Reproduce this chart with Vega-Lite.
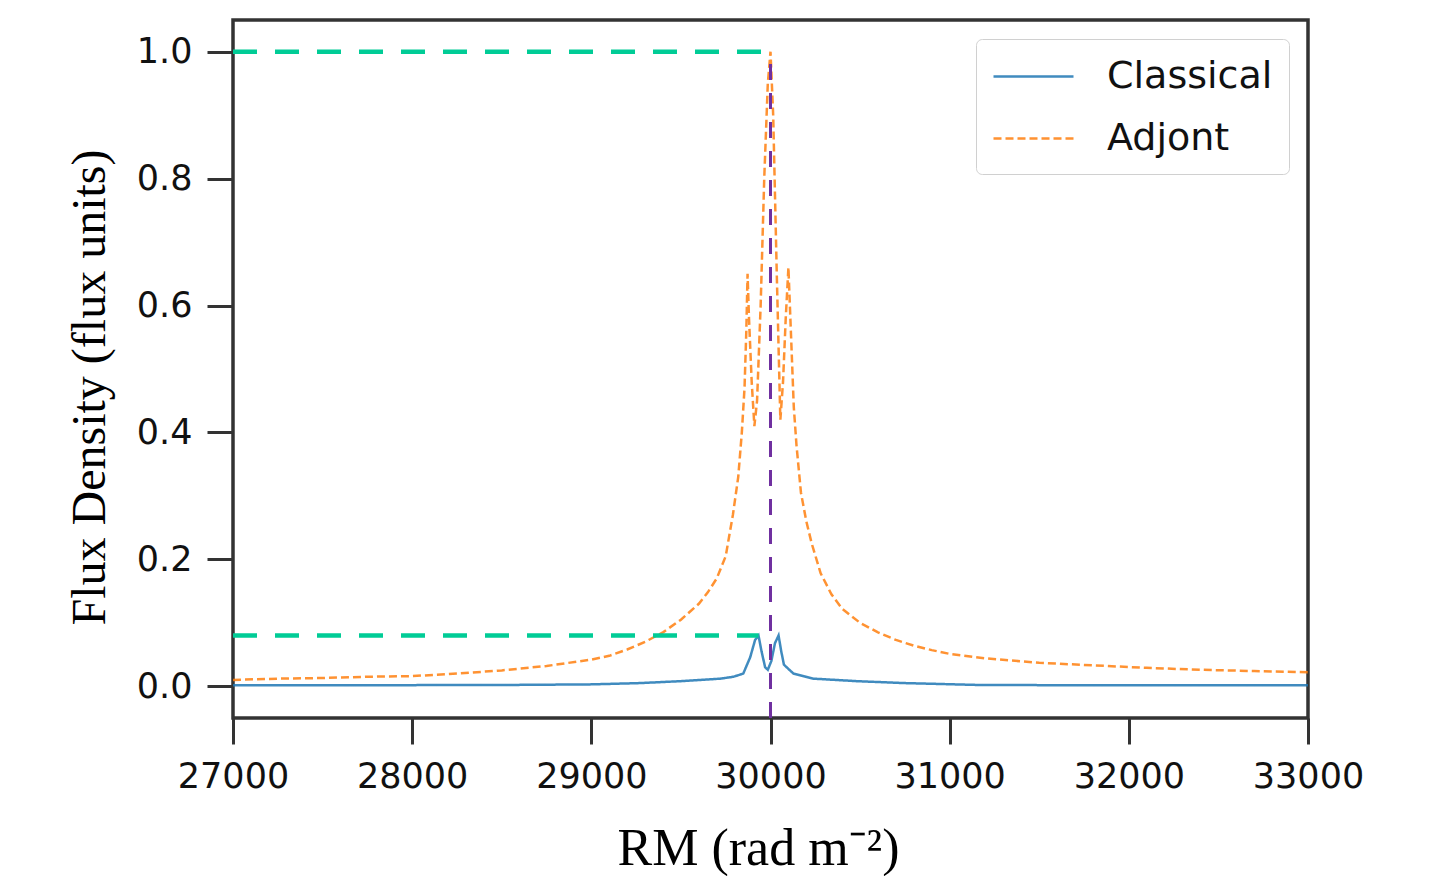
{
  "$schema": "https://vega.github.io/schema/vega-lite/v6.json",
  "autosize": {"type": "none"},
  "padding": {"left": 233, "top": 20, "right": 145, "bottom": 158},
  "width": 1075,
  "height": 698,
  "background": "white",
  "config": {
    "view": {"stroke": "#333333", "strokeWidth": 3.5},
    "axis": {
      "grid": false,
      "domain": false,
      "tickColor": "#333333",
      "tickWidth": 3,
      "tickSize": 26,
      "labelFont": "DejaVu Sans",
      "labelFontSize": 35,
      "labelColor": "#111111",
      "labelPadding": 15,
      "labelFlush": false,
      "titleFont": "Liberation Serif",
      "titleFontWeight": "normal",
      "titleColor": "#000000"
    },
    "legend": {
      "labelFont": "DejaVu Sans",
      "labelFontSize": 38,
      "labelColor": "#111111",
      "labelLimit": 0,
      "symbolType": "M-1,0H3",
      "symbolSize": 1600,
      "symbolStrokeWidth": 2.5,
      "labelOffset": 72,
      "padding": 16,
      "fillColor": "white",
      "strokeColor": "#d0d0d0",
      "cornerRadius": 6,
      "rowPadding": 21
    }
  },
  "datasets": {
    "curves": [
      {"rm": 27000, "flux": 0.010, "series": "Adjont"},
      {"rm": 27250, "flux": 0.012, "series": "Adjont"},
      {"rm": 27500, "flux": 0.013, "series": "Adjont"},
      {"rm": 27750, "flux": 0.015, "series": "Adjont"},
      {"rm": 28000, "flux": 0.016, "series": "Adjont"},
      {"rm": 28250, "flux": 0.020, "series": "Adjont"},
      {"rm": 28500, "flux": 0.025, "series": "Adjont"},
      {"rm": 28750, "flux": 0.032, "series": "Adjont"},
      {"rm": 29000, "flux": 0.042, "series": "Adjont"},
      {"rm": 29100, "flux": 0.048, "series": "Adjont"},
      {"rm": 29200, "flux": 0.058, "series": "Adjont"},
      {"rm": 29300, "flux": 0.070, "series": "Adjont"},
      {"rm": 29400, "flux": 0.085, "series": "Adjont"},
      {"rm": 29500, "flux": 0.105, "series": "Adjont"},
      {"rm": 29600, "flux": 0.130, "series": "Adjont"},
      {"rm": 29650, "flux": 0.148, "series": "Adjont"},
      {"rm": 29700, "flux": 0.170, "series": "Adjont"},
      {"rm": 29750, "flux": 0.205, "series": "Adjont"},
      {"rm": 29790, "flux": 0.270, "series": "Adjont"},
      {"rm": 29820, "flux": 0.330, "series": "Adjont"},
      {"rm": 29840, "flux": 0.400, "series": "Adjont"},
      {"rm": 29855, "flux": 0.470, "series": "Adjont"},
      {"rm": 29865, "flux": 0.560, "series": "Adjont"},
      {"rm": 29872, "flux": 0.650, "series": "Adjont"},
      {"rm": 29880, "flux": 0.580, "series": "Adjont"},
      {"rm": 29895, "flux": 0.480, "series": "Adjont"},
      {"rm": 29910, "flux": 0.410, "series": "Adjont"},
      {"rm": 29925, "flux": 0.450, "series": "Adjont"},
      {"rm": 29945, "flux": 0.600, "series": "Adjont"},
      {"rm": 29965, "flux": 0.800, "series": "Adjont"},
      {"rm": 29985, "flux": 0.950, "series": "Adjont"},
      {"rm": 30000, "flux": 1.000, "series": "Adjont"},
      {"rm": 30015, "flux": 0.900, "series": "Adjont"},
      {"rm": 30035, "flux": 0.650, "series": "Adjont"},
      {"rm": 30055, "flux": 0.420, "series": "Adjont"},
      {"rm": 30070, "flux": 0.480, "series": "Adjont"},
      {"rm": 30085, "flux": 0.580, "series": "Adjont"},
      {"rm": 30100, "flux": 0.660, "series": "Adjont"},
      {"rm": 30115, "flux": 0.550, "series": "Adjont"},
      {"rm": 30130, "flux": 0.440, "series": "Adjont"},
      {"rm": 30145, "flux": 0.380, "series": "Adjont"},
      {"rm": 30170, "flux": 0.305, "series": "Adjont"},
      {"rm": 30200, "flux": 0.260, "series": "Adjont"},
      {"rm": 30230, "flux": 0.225, "series": "Adjont"},
      {"rm": 30280, "flux": 0.178, "series": "Adjont"},
      {"rm": 30340, "flux": 0.145, "series": "Adjont"},
      {"rm": 30400, "flux": 0.122, "series": "Adjont"},
      {"rm": 30500, "flux": 0.100, "series": "Adjont"},
      {"rm": 30600, "flux": 0.085, "series": "Adjont"},
      {"rm": 30700, "flux": 0.073, "series": "Adjont"},
      {"rm": 30800, "flux": 0.064, "series": "Adjont"},
      {"rm": 30900, "flux": 0.057, "series": "Adjont"},
      {"rm": 31000, "flux": 0.051, "series": "Adjont"},
      {"rm": 31200, "flux": 0.044, "series": "Adjont"},
      {"rm": 31500, "flux": 0.037, "series": "Adjont"},
      {"rm": 31800, "flux": 0.033, "series": "Adjont"},
      {"rm": 32100, "flux": 0.029, "series": "Adjont"},
      {"rm": 32400, "flux": 0.026, "series": "Adjont"},
      {"rm": 32700, "flux": 0.024, "series": "Adjont"},
      {"rm": 33000, "flux": 0.022, "series": "Adjont"},
      {"rm": 27000, "flux": 0.0015, "series": "Classical"},
      {"rm": 27500, "flux": 0.0015, "series": "Classical"},
      {"rm": 28000, "flux": 0.0018, "series": "Classical"},
      {"rm": 28500, "flux": 0.002, "series": "Classical"},
      {"rm": 29000, "flux": 0.003, "series": "Classical"},
      {"rm": 29270, "flux": 0.005, "series": "Classical"},
      {"rm": 29495, "flux": 0.008, "series": "Classical"},
      {"rm": 29720, "flux": 0.012, "series": "Classical"},
      {"rm": 29793, "flux": 0.015, "series": "Classical"},
      {"rm": 29848, "flux": 0.020, "series": "Classical"},
      {"rm": 29887, "flux": 0.046, "series": "Classical"},
      {"rm": 29914, "flux": 0.073, "series": "Classical"},
      {"rm": 29933, "flux": 0.080, "series": "Classical"},
      {"rm": 29950, "flux": 0.055, "series": "Classical"},
      {"rm": 29970, "flux": 0.030, "series": "Classical"},
      {"rm": 29985, "flux": 0.026, "series": "Classical"},
      {"rm": 30005, "flux": 0.040, "series": "Classical"},
      {"rm": 30025, "flux": 0.068, "series": "Classical"},
      {"rm": 30045, "flux": 0.080, "series": "Classical"},
      {"rm": 30060, "flux": 0.055, "series": "Classical"},
      {"rm": 30075, "flux": 0.034, "series": "Classical"},
      {"rm": 30128, "flux": 0.020, "series": "Classical"},
      {"rm": 30240, "flux": 0.012, "series": "Classical"},
      {"rm": 30486, "flux": 0.008, "series": "Classical"},
      {"rm": 30750, "flux": 0.005, "series": "Classical"},
      {"rm": 31170, "flux": 0.002, "series": "Classical"},
      {"rm": 32000, "flux": 0.0015, "series": "Classical"},
      {"rm": 33000, "flux": 0.0015, "series": "Classical"}
    ],
    "peaks": [
      {"rm0": 27000, "rm1": 30000, "flux": 1.0},
      {"rm0": 27000, "rm1": 29933, "flux": 0.08}
    ],
    "centre": [
      {"rm": 30000, "lo": -0.05, "hi": 1.0}
    ]
  },
  "layer": [
    {
      "data": {"name": "curves"},
      "mark": {"type": "line", "strokeWidth": 2.5, "opacity": 0.85},
      "encoding": {
        "x": {
          "field": "rm", "type": "quantitative",
          "scale": {"domain": [27000, 33000], "nice": false, "zero": false},
          "axis": {
            "values": [27000, 28000, 29000, 30000, 31000, 32000, 33000],
            "format": "d",
            "title": "RM (rad m⁻²)",
            "titleFontSize": 52,
            "titlePadding": 29,
            "titleX": 525
          }
        },
        "y": {
          "field": "flux", "type": "quantitative",
          "scale": {"domain": [-0.05, 1.05], "nice": false, "zero": false},
          "axis": {
            "values": [0, 0.2, 0.4, 0.6, 0.8, 1.0],
            "format": ".1f",
            "title": "Flux Density (flux units)",
            "titleFontSize": 48,
            "titlePadding": 22,
            "titleY": 367
          }
        },
        "color": {
          "field": "series", "type": "nominal",
          "scale": {"domain": ["Classical", "Adjont"], "range": ["#1f77b4", "#ff7f0e"]},
          "legend": {"title": null, "orient": "top-right", "offset": 19}
        },
        "strokeDash": {
          "field": "series", "type": "nominal",
          "scale": {"domain": ["Classical", "Adjont"], "range": [[1, 0], [8, 4]]},
          "legend": {"title": null, "orient": "top-right", "offset": 19}
        }
      }
    },
    {
      "data": {"name": "peaks"},
      "mark": {"type": "rule", "color": "#00cc96", "strokeWidth": 4.5, "strokeDash": [24, 18]},
      "encoding": {
        "x": {"field": "rm0", "type": "quantitative"},
        "x2": {"field": "rm1"},
        "y": {"field": "flux", "type": "quantitative"}
      }
    },
    {
      "data": {"name": "centre"},
      "mark": {"type": "rule", "color": "#7030a0", "strokeWidth": 3, "strokeDash": [16, 13]},
      "encoding": {
        "x": {"field": "rm", "type": "quantitative"},
        "y": {"field": "lo", "type": "quantitative"},
        "y2": {"field": "hi"}
      }
    }
  ]
}
